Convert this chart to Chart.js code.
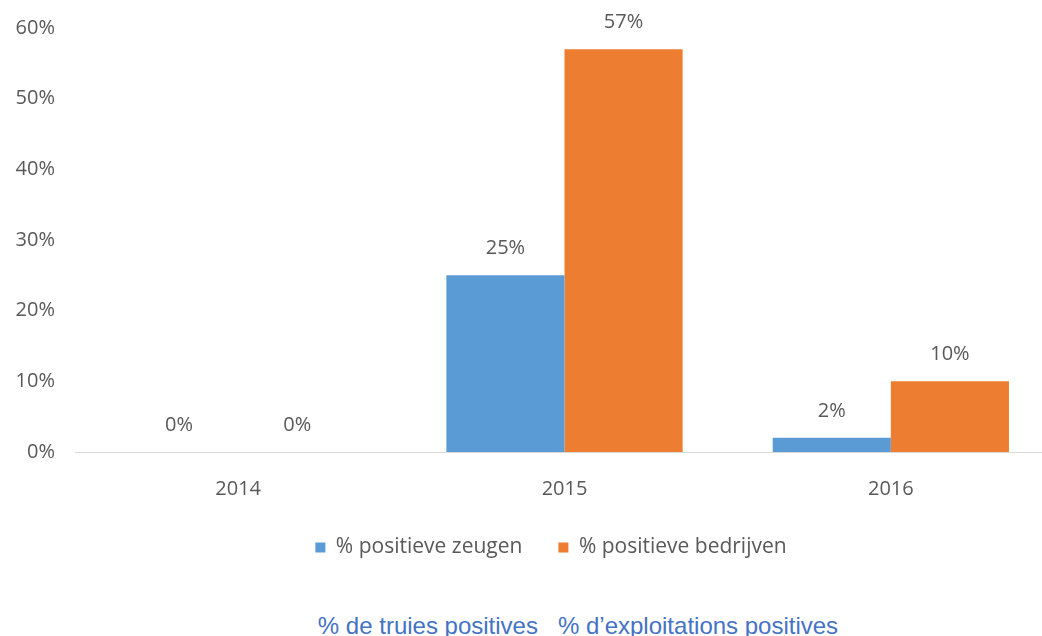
<!DOCTYPE html>
<html>
<head>
<meta charset="utf-8">
<script src="https://cdn.jsdelivr.net/npm/chart.js@4"></script>
<style>
  html, body { margin: 0; padding: 0; background: #fff; overflow: hidden; }
  #wrap { position: absolute; left: 0; top: -4px; width: 1054px; height: 583px; }
  #note { position: absolute; left: 0; width: 1156px; top: 612px; text-align: center;
          font-family: "Liberation Sans", Arial, sans-serif; font-size: 24px; color: #4472c4; white-space: pre; }
</style>
</head>
<body>
<div id="wrap"><canvas id="chart"></canvas></div>
<div id="note">% de truies positives   % d’exploitations positives</div>
<script>
// données
const years = ["2014", "2015", "2016"];
const zeugen = [0, 25, 2];
const bedrijven = [0, 57, 10];
const yTickLabels = ["0%", "10%", "20%", "30%", "40%", "50%", "60%"];

// étiquettes au-dessus des barres
const labelPlugin = {
    id: "barLabels",
    afterLayout(chart) {
        // légende un peu décalée vers la droite
        chart.legend.left += 24;
        chart.legend.right += 24;
    },
    afterDatasetsDraw(chart) {
        const ctx = chart.ctx;
        ctx.save();
        ctx.font = "20px 'Open Sans'";
        ctx.fillStyle = "#595959";
        ctx.textAlign = "center";
        ctx.textBaseline = "middle";
        chart.data.datasets.forEach((ds, i) => {
            chart.getDatasetMeta(i).data.forEach((bar, j) => {
                ctx.fillText(ds.data[j] + "%", bar.x, bar.y - 27);
            });
        });
        ctx.restore();
    }
};

new Chart(document.getElementById("chart").getContext("2d"), {
    type: "bar",
    data: {
        labels: years,
        datasets: [
            { label: "% positieve zeugen", data: zeugen, backgroundColor: "#5b9bd5" },
            { label: "% positieve bedrijven", data: bedrijven, backgroundColor: "#ed7d31" }
        ]
    },
    options: {
        responsive: true,
        maintainAspectRatio: false,
        animation: false,
        layout: { padding: { top: 18, left: 0, right: 0, bottom: 11 } },
        datasets: { bar: { categoryPercentage: 0.724, barPercentage: 1.0 } },
        plugins: {
            tooltip: { enabled: false },
            legend: {
                position: "bottom",
                labels: {
                    boxWidth: 10, boxHeight: 10, padding: 36,
                    color: "#595959",
                    font: { family: "Open Sans", size: 21 }
                }
            }
        },
        scales: {
            x: {
                grid: { display: false, drawTicks: false },
                border: { display: true, color: "#d9d9d9", width: 1 },
                ticks: { color: "#595959", padding: 25, font: { family: "Open Sans", size: 20 } },
                afterFit: (s) => { s.height = 49; }
            },
            y: {
                min: 0, max: 60,
                grid: { display: false, drawTicks: false },
                border: { display: false },
                ticks: { stepSize: 10, color: "#595959", padding: 20, font: { family: "Open Sans", size: 20 },
                         callback: (v, i) => yTickLabels[i] },
                afterFit: (s) => { s.width = 75; }
            }
        }
    },
    plugins: [labelPlugin]
});
</script>
</body>
</html>
